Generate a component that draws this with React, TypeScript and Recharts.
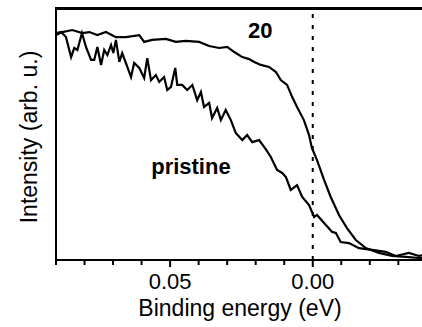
import React from 'react';
import { LineChart, Line, XAxis, YAxis, ReferenceLine, ReferenceDot } from 'recharts';

// Binding energy (eV) / intensity (arb. u.)
const energy20 = [
  0.09, 0.0878, 0.0843, 0.0808, 0.0783, 0.0755, 0.0725, 0.069, 0.0655, 0.0608, 0.0591, 0.0563,
  0.0515, 0.048, 0.0445, 0.0398, 0.0363, 0.0328, 0.03, 0.0275, 0.0247, 0.0223, 0.0205, 0.0182,
  0.0153, 0.0129, 0.0112, 0.009, 0.0072, 0.0055, 0.0031, 0.0013, 0.0003, -0.0015, -0.004,
  -0.0063, -0.0092, -0.012, -0.0151, -0.0186, -0.0232, -0.0278, -0.0326, -0.0373, -0.039,
];
const intensity20 = [
  0.889, 0.901, 0.909, 0.897, 0.901, 0.889, 0.901, 0.881, 0.881, 0.889, 0.862, 0.87,
  0.874, 0.862, 0.866, 0.862, 0.846, 0.838, 0.842, 0.822, 0.802, 0.794, 0.783, 0.771,
  0.763, 0.743, 0.711, 0.692, 0.644, 0.605, 0.553, 0.494, 0.443, 0.395, 0.316,
  0.249, 0.178, 0.126, 0.079, 0.047, 0.028, 0.016, 0.012, 0.008, 0.008,
];

const energyPristine = [
  0.09, 0.0882, 0.0865, 0.0847, 0.0836, 0.0825, 0.0809, 0.0795, 0.0777, 0.0766, 0.0755, 0.0742,
  0.0731, 0.072, 0.0707, 0.0699, 0.069, 0.0678, 0.0668, 0.065, 0.0637, 0.0626, 0.0608, 0.0591,
  0.058, 0.0567, 0.055, 0.0538, 0.0521, 0.051, 0.0497, 0.0482, 0.0475, 0.0458, 0.044, 0.0422,
  0.0405, 0.0392, 0.0381, 0.0363, 0.0353, 0.0335, 0.0322, 0.0305, 0.0287, 0.027, 0.0247, 0.023,
  0.0212, 0.0188, 0.0163, 0.0147, 0.0125, 0.0107, 0.0094, 0.0077, 0.0055, 0.0037, 0.0013,
  -0.0005, -0.0015, -0.0046, -0.0068, -0.0081, -0.0098, -0.0127, -0.0162, -0.0208, -0.0256,
  -0.0291, -0.0337, -0.0372, -0.039,
];
const intensityPristine = [
  0.897, 0.901, 0.881, 0.802, 0.838, 0.83, 0.897, 0.842, 0.791, 0.791, 0.842, 0.771,
  0.83, 0.81, 0.85, 0.818, 0.87, 0.783, 0.818, 0.763, 0.723, 0.779, 0.759, 0.719,
  0.798, 0.711, 0.731, 0.704, 0.723, 0.672, 0.684, 0.759, 0.692, 0.692, 0.672, 0.692,
  0.632, 0.664, 0.605, 0.621, 0.561, 0.601, 0.553, 0.593, 0.553, 0.502, 0.474, 0.494,
  0.466, 0.474, 0.435, 0.407, 0.356, 0.344, 0.328, 0.277, 0.296, 0.249, 0.217,
  0.17, 0.178, 0.138, 0.111, 0.107, 0.071, 0.067, 0.047, 0.04, 0.032,
  0.016, 0.028, 0.016, 0.02,
];

const tickValues = [0.09, 0.08, 0.07, 0.06, 0.05, 0.04, 0.03, 0.02, 0.01, 0, -0.01, -0.02, -0.03];
const labelledTicks = [0.05, 0];

const data20 = energy20.map((e, i) => ({ e, v: intensity20[i] }));
const dataPristine = energyPristine.map((e, i) => ({ e, v: intensityPristine[i] }));

const FONT = '"Liberation Sans", Arial, Helvetica, sans-serif';

const EnergyTick = (props: any) => {
  const { x, y, payload } = props;
  const major = labelledTicks.some((t) => Math.abs(t - payload.value) < 1e-6);
  return (
    <g>
      <line x1={x} y1={y} x2={x} y2={y + (major ? 7 : 5)} stroke="#000" strokeWidth={2} />
      {major && (
        <text x={x} y={y + 29} textAnchor="middle" fontSize={22} fontFamily={FONT} fill="#000">
          {payload.value.toFixed(2)}
        </text>
      )}
    </g>
  );
};

const textMark = (label: string) => (props: any) => (
  <text x={props.cx} y={props.cy} textAnchor="middle" fontSize={22} fontWeight="bold" fontFamily={FONT} fill="#000">
    {label}
  </text>
);

export default function App() {
  return (
    <div style={{ position: 'absolute', left: 0, top: 0, width: 422, height: 327, overflow: 'hidden', background: '#fff' }}>
      <LineChart width={440} height={327} margin={{ top: 7, right: 16, bottom: 0, left: 0 }}>
        <XAxis
          type="number"
          dataKey="e"
          domain={[-0.039, 0.09]}
          reversed
          allowDataOverflow
          ticks={tickValues}
          interval={0}
          height={67}
          tickSize={0}
          tickMargin={0}
          tick={<EnergyTick />}
          axisLine={{ stroke: '#000', strokeWidth: 2 }}
          label={(p: any) => {
            const vb = p.viewBox || { x: 56, y: 260, width: 368 };
            return (
              <text x={vb.x + vb.width / 2} y={vb.y + 56} textAnchor="middle" fontSize={23} fontFamily={FONT} fill="#000">
                Binding energy (eV)
              </text>
            );
          }}
        />
        <YAxis
          type="number"
          domain={[0, 1]}
          allowDataOverflow
          width={56}
          tick={false}
          tickLine={false}
          axisLine={{ stroke: '#000', strokeWidth: 2 }}
          label={() => (
            <text
              x={37}
              y={137}
              textAnchor="middle"
              transform="rotate(-90, 37, 137)"
              fontSize={23}
              fontFamily={FONT}
              fill="#000"
            >
              Intensity (arb. u.)
            </text>
          )}
        />
        <ReferenceLine x={0} stroke="#000" strokeWidth={2} strokeDasharray="4 7" />
        <Line data={dataPristine} dataKey="v" type="linear" stroke="#000" strokeWidth={2.2} dot={false} isAnimationActive={false} />
        <Line data={data20} dataKey="v" type="linear" stroke="#000" strokeWidth={2.2} dot={false} isAnimationActive={false} />
        <ReferenceDot x={0.0184} y={0.877} r={0} shape={textMark('20')} />
        <ReferenceDot x={0.0427} y={0.341} r={0} shape={textMark('pristine')} />
      </LineChart>
      {/* top edge of the plot frame */}
      <div style={{ position: 'absolute', left: 55, top: 7, width: 370, height: 3, background: '#000' }} />
    </div>
  );
}
